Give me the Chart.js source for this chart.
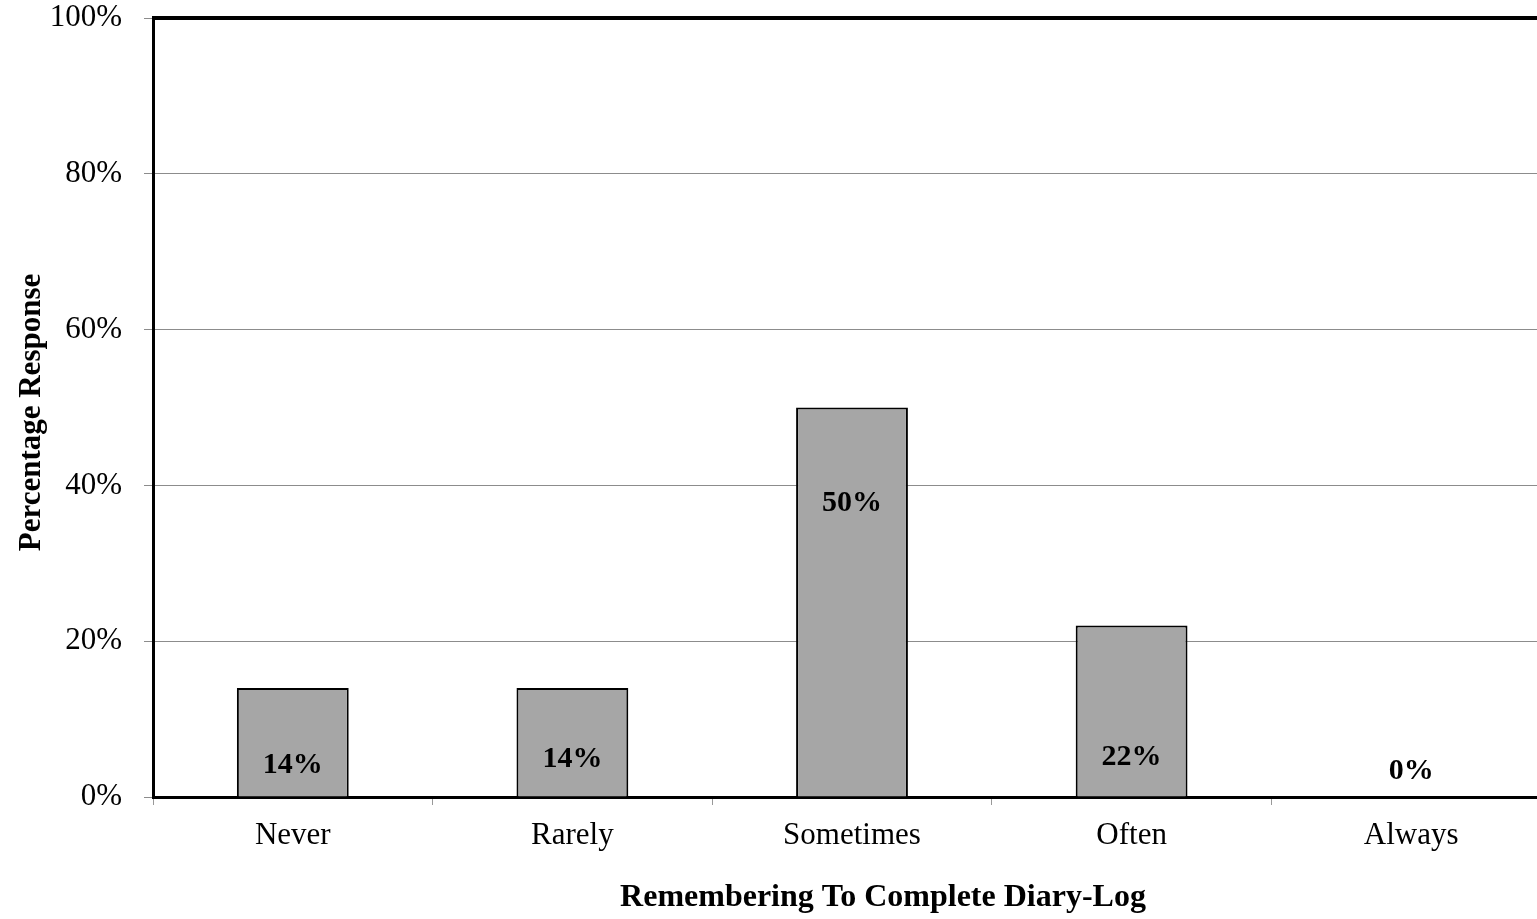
<!DOCTYPE html>
<html>
<head>
<meta charset="utf-8">
<script src="https://cdn.jsdelivr.net/npm/chart.js@4.4.1/dist/chart.umd.min.js"></script>
<style>
html,body{margin:0;padding:0;background:#fff;overflow:hidden;}
canvas{display:block;}
</style>
</head>
<body>
<canvas id="c" width="1560" height="919"></canvas>
<script>
const categories = ["Never", "Rarely", "Sometimes", "Often", "Always"];
const percentValues = [14, 14, 50, 22, 0];
const yTickValues = [0, 20, 40, 60, 80, 100];
const xTitle = "Remembering To Complete Diary-Log";
const yTitle = "Percentage Response";

const FONT = "'Liberation Serif', 'Times New Roman', serif";

const decor = {
  id: 'decor',
  afterDatasetsDraw(chart, args, opts) {
    const ctx = chart.ctx;
    const area = chart.chartArea;
    const y = chart.scales.y;
    ctx.save();
    // top border
    ctx.strokeStyle = '#000';
    ctx.lineWidth = 4;
    ctx.beginPath();
    ctx.moveTo(area.left - 1, area.top);
    ctx.lineTo(area.right + 10, area.top);
    ctx.stroke();
    // data labels
    ctx.fillStyle = '#000';
    ctx.font = "bold 30px " + FONT;
    ctx.textAlign = 'center';
    ctx.textBaseline = 'middle';
    const meta = chart.getDatasetMeta(0);
    meta.data.forEach((bar, i) => {
      const lift = opts.labelLift[i];
      ctx.fillText(percentValues[i] + '%', bar.x, y.getPixelForValue(0) - lift);
    });
    // x title
    ctx.font = "bold 32px " + FONT;
    ctx.fillText(xTitle, (area.left + area.right) / 2 + 31, 898);
    // y title
    ctx.translate(32, (area.top + area.bottom) / 2 + 5);
    ctx.rotate(-Math.PI / 2);
    ctx.font = "bold 31px " + FONT;
    ctx.fillText(yTitle, 0, 0);
    ctx.restore();
  }
};

new Chart(document.getElementById('c'), {
  type: 'bar',
  data: {
    labels: categories,
    datasets: [{
      data: percentValues,
      backgroundColor: '#a6a6a6',
      borderColor: '#000',
      borderWidth: 2,
      barPercentage: 0.4,
      categoryPercentage: 1.0
    }]
  },
  options: {
    responsive: false,
    animation: false,
    devicePixelRatio: 1,
    layout: { padding: { top: 18, right: 9, left: 0, bottom: 0 } },
    plugins: {
      legend: { display: false },
      tooltip: { enabled: false },
      decor: { labelLift: [32, 38, 294, 40, 26] }
    },
    scales: {
      x: {
        grid: { display: true, drawOnChartArea: false, offset: true, color: '#999', tickLength: 8, lineWidth: 1 },
        border: { color: '#000', width: 3 },
        ticks: { color: '#000', font: { family: FONT, size: 31 }, padding: 12 },
        afterFit(scale) { scale.height = 122; scale.paddingLeft = 0; scale.paddingRight = 0; }
      },
      y: {
        min: 0, max: 100,
        afterBuildTicks(scale) { scale.ticks = yTickValues.map(v => ({ value: v })); },
        grid: { color: '#8c8c8c', lineWidth: 1, tickLength: 9 },
        border: { color: '#000', width: 3 },
        ticks: { color: '#000', font: { family: FONT, size: 31 }, padding: 22,
          callback: v => v + '%' },
        afterFit(scale) { scale.width = 153; scale.paddingTop = 0; scale.paddingBottom = 0; }
      }
    }
  },
  plugins: [decor]
});
</script>
</body>
</html>
